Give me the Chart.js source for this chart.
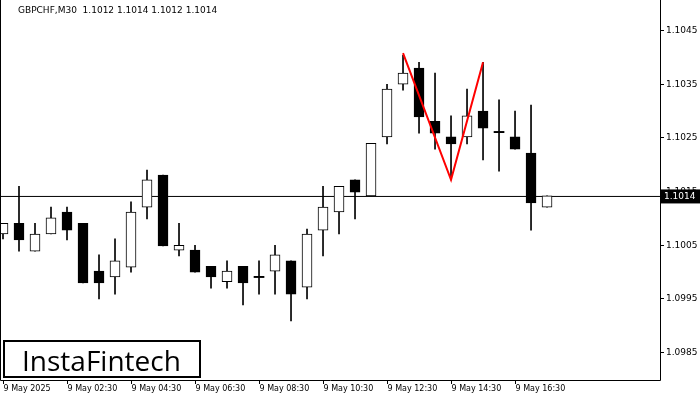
<!DOCTYPE html>
<html><head><meta charset="utf-8">
<script src="https://cdn.jsdelivr.net/npm/chart.js@4"></script>
<style>
body{margin:0;background:#fff;}
#wrap{position:relative;width:700px;height:400px;}
#title{position:absolute;left:18px;top:5px;font:9px "DejaVu Sans",sans-serif;color:#000;}
#logo{position:absolute;left:3px;top:340px;width:198px;height:38px;border:2px solid #000;background:#fff;font:28px "Open Sans","DejaVu Sans",sans-serif;color:#000;line-height:36px;padding-left:17px;box-sizing:border-box;}
</style></head><body>
<div id="wrap"><canvas id="c" width="700" height="400"></canvas>
<div id="title">GBPCHF,M30&nbsp; 1.1012 1.1014 1.1012 1.1014</div>
<div id="logo">InstaFintech</div></div>
<script>
const opens  = [1.10070,1.10090,1.10038,1.10070,1.10111,1.10090,1.10001,1.09990,1.10008,1.10120,1.10180,1.10040,1.10040,1.10010,1.09981,1.10010,1.09990,1.10001,1.10020,1.09971,1.10077,1.10111,1.10171,1.10141,1.10251,1.10349,1.10379,1.10280,1.10251,1.10251,1.10299,1.10260,1.10251,1.10221,1.10120];
const highs  = [1.10090,1.10159,1.10090,1.10120,1.10120,1.10090,1.10031,1.10061,1.10130,1.10189,1.10180,1.10090,1.10049,1.10010,1.10020,1.10010,1.10020,1.10049,1.10020,1.10079,1.10159,1.10159,1.10171,1.10141,1.10349,1.10403,1.10390,1.10370,1.10290,1.10340,1.10390,1.10320,1.10299,1.10310,1.10141];
const lows   = [1.10061,1.10038,1.10038,1.10070,1.10059,1.09979,1.09949,1.09958,1.09999,1.10098,1.10048,1.10029,1.09999,1.09969,1.09969,1.09938,1.09958,1.09958,1.09908,1.09949,1.10029,1.10070,1.10098,1.10141,1.10238,1.10338,1.10258,1.10228,1.10171,1.10238,1.10208,1.10187,1.10228,1.10077,1.10120];
const closes = [1.10090,1.10059,1.10070,1.10100,1.10077,1.09979,1.09979,1.10020,1.10111,1.10171,1.10048,1.10049,1.09999,1.09990,1.10001,1.09979,1.09990,1.10031,1.09958,1.10070,1.10120,1.10159,1.10148,1.10239,1.10340,1.10370,1.10288,1.10258,1.10238,1.10290,1.10267,1.10260,1.10228,1.10128,1.10141];
const timeLabels = ["9 May 2025","9 May 02:30","9 May 04:30","9 May 06:30","9 May 08:30","9 May 10:30","9 May 12:30","9 May 14:30","9 May 16:30"];
const priceTicks = [1.0985,1.0995,1.1005,1.1015,1.1025,1.1035,1.1045];
const currentPrice = 1.1014;
const patternX = [25,28,30];
const patternY = [1.10407,1.10171,1.10390];

const idx = opens.map((_,i)=>i);
const doji = idx.map(i=>Math.abs(closes[i]-opens[i])<0.00001);
const bull = idx.map(i=>closes[i]>=opens[i]);
const bodies = idx.map(i=>{let a=Math.min(opens[i],closes[i]),b=Math.max(opens[i],closes[i]);if(doji[i]){a-=0.000012;b+=0.000012;}return {x:i,y:[a,b]};});
const wicks = idx.map(i=>({x:i,y:[lows[i],highs[i]]}));

const frame={id:'frame',afterDraw(ch){const a=ch.chartArea,c=ch.ctx,xs=ch.scales.x,ys=ch.scales.y;c.save();c.strokeStyle='#000';c.lineWidth=1;
 c.beginPath();c.moveTo(0.5,0);c.lineTo(0.5,a.bottom+0.5);c.lineTo(a.right+0.5,a.bottom+0.5);c.lineTo(a.right+0.5,0);c.stroke();
 c.fillStyle='#000';c.font='9px "DejaVu Sans"';c.textBaseline='middle';c.textAlign='left';
 priceTicks.forEach(v=>{const y=Math.round(ys.getPixelForValue(v))+0.5;c.beginPath();c.moveTo(a.right,y);c.lineTo(a.right+4,y);c.stroke();c.fillText(v.toFixed(4),a.right+6,y);});
 c.textBaseline='top';c.font='8px "DejaVu Sans"';
 timeLabels.forEach((t,k)=>{const x=Math.round(xs.getPixelForValue(k*4))+0.5;c.beginPath();c.moveTo(x,a.bottom);c.lineTo(x,a.bottom+4);c.stroke();c.fillText(t,x,a.bottom+5);});
 const y=ys.getPixelForValue(currentPrice);c.font='9px "DejaVu Sans"';c.fillStyle='#000';c.fillRect(a.right+1,y-7,39,14);c.fillStyle='#fff';c.textBaseline='middle';c.fillText(currentPrice.toFixed(4),a.right+4,y);c.restore();}};

new Chart(document.getElementById('c'),{
 type:'bar',
 data:{datasets:[
  {type:'line',data:[{x:-1,y:currentPrice},{x:50,y:currentPrice}],borderColor:'#000',borderWidth:1,pointRadius:0,order:5},
  {data:wicks,backgroundColor:'#000',barThickness:1,grouped:false,order:3},
  {data:bodies,backgroundColor:idx.map(i=>doji[i]?'#000':(bull[i]?'#fff':'#000')),borderColor:'#000',borderWidth:idx.map(i=>doji[i]?0:1),borderSkipped:false,barThickness:idx.map(i=>doji[i]?11:10),grouped:false,order:2},
  {type:'line',data:patternX.map((x,i)=>({x,y:patternY[i]})),borderColor:'#f00',borderWidth:2,pointRadius:0,order:1}
 ]},
 options:{animation:false,responsive:false,events:[],
  layout:{padding:0},
  plugins:{legend:{display:false},tooltip:{enabled:false}},
  scales:{
   x:{type:'linear',offset:false,min:-0.1875,max:41.06,grid:{display:false},border:{display:false},ticks:{display:false},afterFit(s){s.height=20;}},
   y:{position:'right',min:1.09798,max:1.10506,grid:{display:false},border:{display:false},ticks:{display:false},afterFit(s){s.width=40;}}
  }},
 plugins:[frame]
});
</script></body></html>
